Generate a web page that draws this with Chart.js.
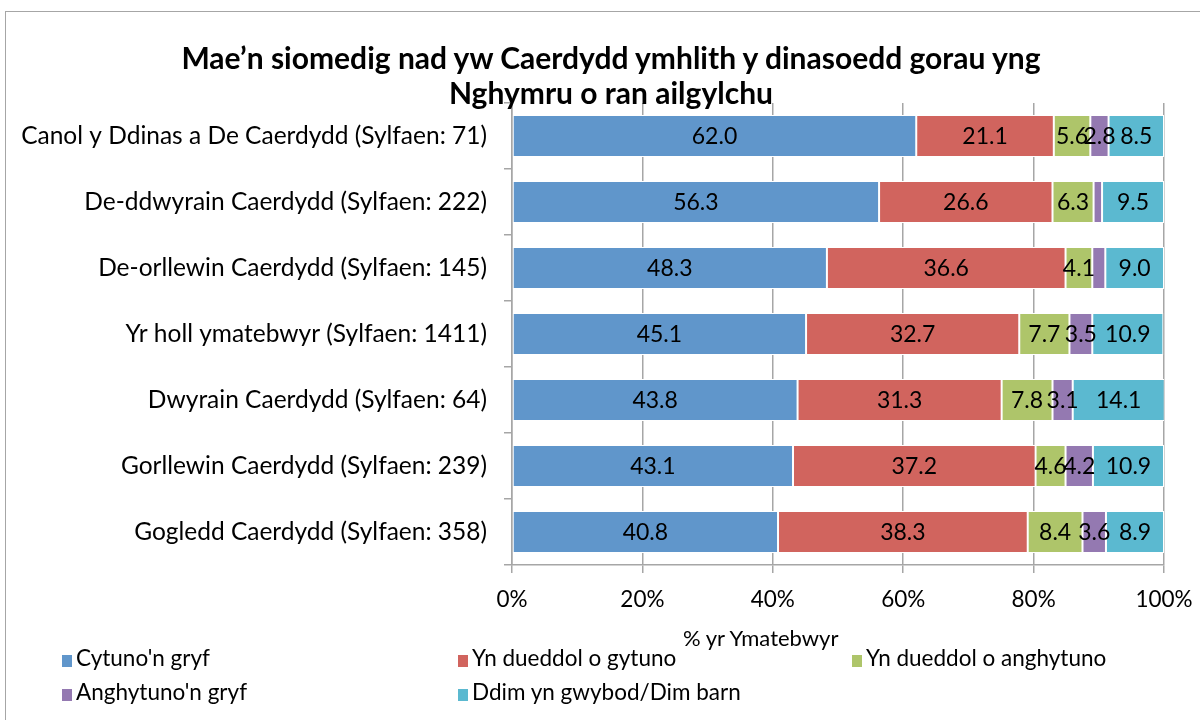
<!DOCTYPE html>
<html>
<head>
<meta charset="utf-8">
<script src="https://cdn.jsdelivr.net/npm/chart.js@4/dist/chart.umd.min.js"></script>
<style>
  body { margin: 0; background: #fff; font-family: Lato, sans-serif; }
  #wrap { position: relative; width: 1200px; height: 720px; overflow: hidden; }
  #frame { position: absolute; left: 5px; top: 11px; width: 1300px; height: 800px; border: 1.5px solid #a6a6a6; }
  #chart { position: absolute; left: 0; top: 0; }
  #title { position: absolute; left: 0; width: 1222px; top: 40px; text-align: center;
           font: bold 30px Lato, sans-serif; line-height: 35px; color: #000; }
  #xtitle { position: absolute; left: 683px; top: 624px; font: 22px Lato, sans-serif; color: #000; }
  .leg { position: absolute; font: 22.5px Lato, sans-serif; color: #000; white-space: nowrap; }
  .leg span { display: inline-block; width: 10px; height: 12px; margin-right: 4px; vertical-align: -1px; }
</style>
</head>
<body>
<div id="wrap">
  <div id="frame"></div>
  <canvas id="chart" width="1200" height="720"></canvas>
  <div id="title">Mae’n siomedig nad yw Caerdydd ymhlith y dinasoedd gorau yng<br>Nghymru o ran ailgylchu</div>
  <div id="xtitle">% yr Ymatebwyr</div>
</div>
<script>
// categories (top to bottom)
const categories = [
    'Canol y Ddinas a De Caerdydd (Sylfaen: 71)',
    'De-ddwyrain Caerdydd (Sylfaen: 222)',
    'De-orllewin Caerdydd (Sylfaen: 145)',
    'Yr holl ymatebwyr (Sylfaen: 1411)',
    'Dwyrain Caerdydd (Sylfaen: 64)',
    'Gorllewin Caerdydd (Sylfaen: 239)',
    'Gogledd Caerdydd (Sylfaen: 358)'
];

// series values (% of respondents)
const cytunoGryf = [62.0, 56.3, 48.3, 45.1, 43.8, 43.1, 40.8];
const tueddolGytuno = [21.1, 26.6, 36.6, 32.7, 31.3, 37.2, 38.3];
const tueddolAnghytuno = [5.6, 6.3, 4.1, 7.7, 7.8, 4.6, 8.4];
const anghytunoGryf = [2.8, 1.3, 2.0, 3.5, 3.1, 4.2, 3.6];
const ddimGwybod = [8.5, 9.5, 9.0, 10.9, 14.1, 10.9, 8.9];

const seriesNames = ["Cytuno'n gryf", 'Yn dueddol o gytuno', 'Yn dueddol o anghytuno', "Anghytuno'n gryf", 'Ddim yn gwybod/Dim barn'];
const seriesColors = ['#6096CB', '#D1645E', '#AEC56A', '#9479B1', '#5BB9D0'];

// x axis tick values
const xTicks = [0, 20, 40, 60, 80, 100];

const allSeries = [cytunoGryf, tueddolGytuno, tueddolAnghytuno, anghytunoGryf, ddimGwybod];

// legend built from the series (two rows, three columns)
const legendSpots = [[62, 644], [458, 644], [852, 644], [62, 678], [458, 678]];
seriesNames.forEach((name, i) => {
    const d = document.createElement('div');
    d.className = 'leg';
    d.style.left = legendSpots[i][0] + 'px';
    d.style.top = legendSpots[i][1] + 'px';
    d.innerHTML = '<span style="background:' + seriesColors[i] + '"></span>' + name;
    document.getElementById('wrap').appendChild(d);
});

// write the values in the middle of each segment (small ones are left out)
const barLabels = {
    id: 'barLabels',
    afterDatasetsDraw(chart) {
        const ctx = chart.ctx;
        ctx.save();
        ctx.font = '23px Lato, sans-serif';
        ctx.fillStyle = '#000';
        ctx.textAlign = 'center';
        ctx.textBaseline = 'middle';
        chart.data.datasets.forEach((ds, di) => {
            chart.getDatasetMeta(di).data.forEach((bar, i) => {
                const v = ds.data[i];
                if (v < 2.5) return;
                const p = bar.getCenterPoint();
                ctx.fillText(v.toFixed(1), p.x, p.y + 1);
            });
        });
        ctx.restore();
    }
};

const gridGrey = '#a6a6a6';

new Chart(document.getElementById('chart').getContext('2d'), {
    type: 'bar',
    data: {
        labels: categories,
        datasets: allSeries.map((vals, i) => ({
            label: seriesNames[i],
            data: vals,
            backgroundColor: seriesColors[i],
            borderColor: '#ffffff',
            borderWidth: 1,
            borderSkipped: false,
            categoryPercentage: 1,
            barPercentage: 0.64
        }))
    },
    options: {
        indexAxis: 'y',
        responsive: false,
        animation: false,
        devicePixelRatio: 1,
        layout: { padding: { left: 0, right: 36, top: 103, bottom: 99 } },
        plugins: {
            legend: { display: false },
            tooltip: { enabled: false }
        },
        scales: {
            x: {
                stacked: true,
                min: 0,
                max: 100,
                afterBuildTicks: (scale) => { scale.ticks = xTicks.map(v => ({ value: v })); },
                afterFit: (scale) => {
                    scale.height = 56;
                    scale.paddingLeft = 0;
                    scale.paddingRight = 0;
                },
                ticks: {
                    color: '#000',
                    font: { family: 'Lato', size: 22.5 },
                    padding: 13,
                    callback: (v) => v + '%'
                },
                grid: { color: gridGrey, lineWidth: 1.5, tickLength: 8 },
                border: { color: gridGrey, width: 1.5 }
            },
            y: {
                stacked: true,
                afterFit: (scale) => { scale.width = 512; },
                ticks: {
                    color: '#000',
                    font: { family: 'Lato', size: 24.5 },
                    padding: 17
                },
                grid: { drawOnChartArea: false, color: gridGrey, lineWidth: 1.5, tickLength: 8 },
                border: { color: gridGrey, width: 1.5 }
            }
        }
    },
    plugins: [barLabels]
});
</script>
</body>
</html>
